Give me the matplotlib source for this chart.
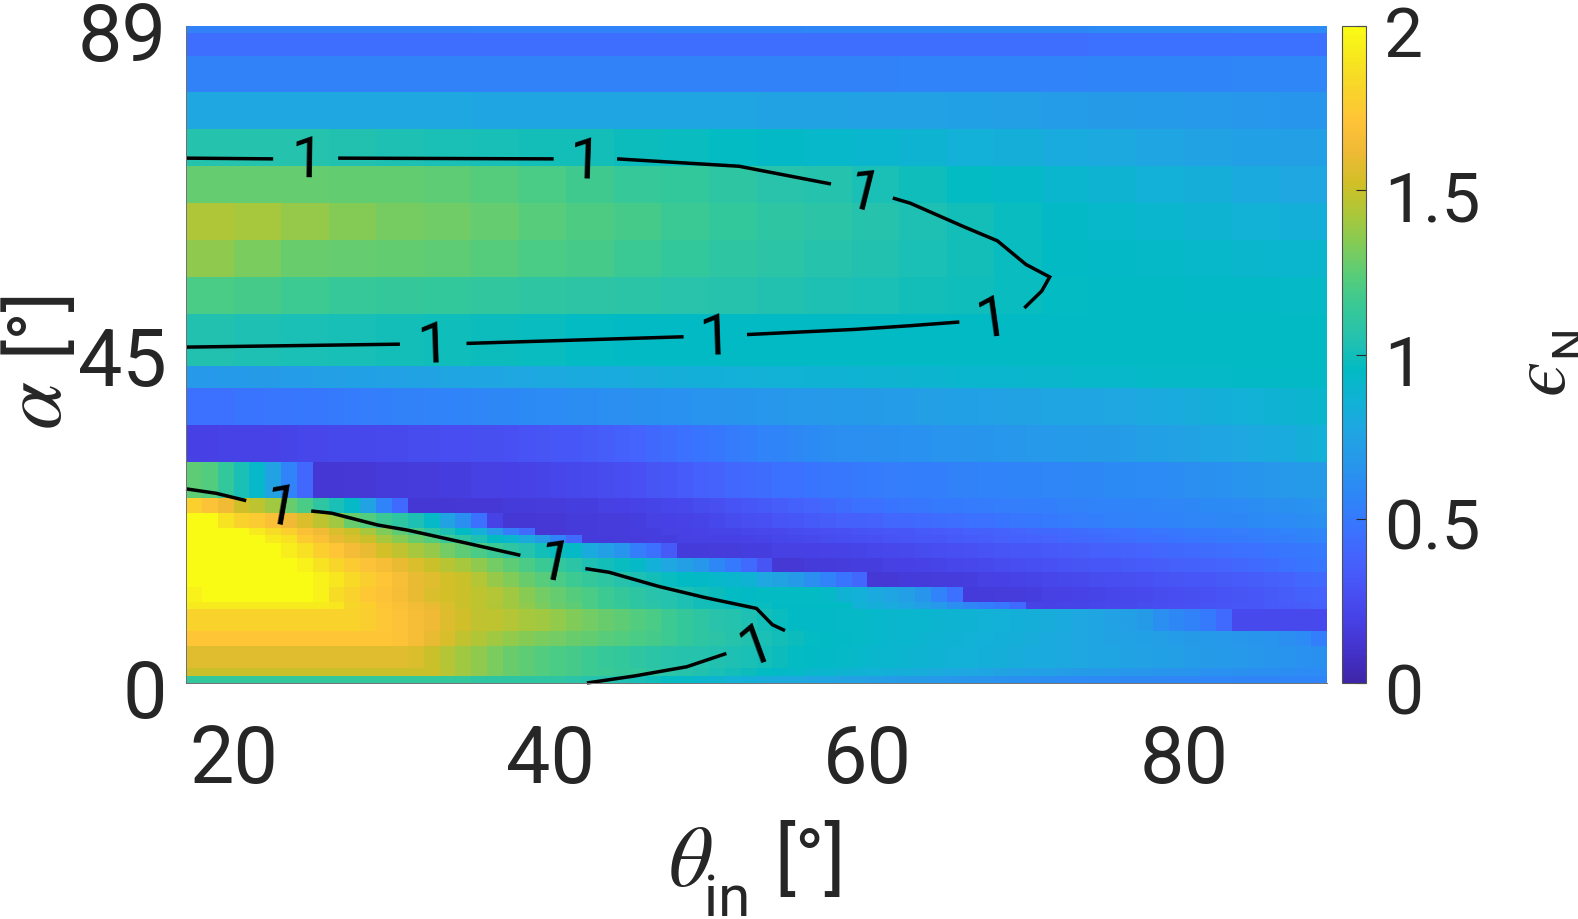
import numpy as np
import matplotlib
matplotlib.use("Agg")
from matplotlib import pyplot as plt
from matplotlib.colors import LinearSegmentedColormap
from matplotlib.transforms import ScaledTranslation

plt.rcParams['font.family'] = ['Roboto', 'DejaVu Sans']
plt.rcParams['mathtext.fontset'] = 'custom'
plt.rcParams['mathtext.rm'] = 'Roboto'
plt.rcParams['mathtext.it'] = 'STIXGeneral:italic'

W, H = 1578, 920
TXT = '#262626'

parula_idx = [0, 3, 6, 9, 12, 15, 18, 21, 24, 27, 30, 33, 36, 39, 42, 45, 48, 51, 54, 58, 63]
parula = [
    (0.2422, 0.1504, 0.6603), (0.2647, 0.1978, 0.7952), (0.2783, 0.2559, 0.8991),
    (0.2810, 0.3228, 0.9579), (0.2699, 0.3892, 0.9906), (0.2206, 0.4603, 0.9973),
    (0.1786, 0.5289, 0.9682), (0.1540, 0.5902, 0.9218), (0.1248, 0.6459, 0.8883),
    (0.0689, 0.6948, 0.8394), (0.0067, 0.7312, 0.7660), (0.1408, 0.7584, 0.6842),
    (0.2161, 0.7843, 0.5923), (0.3406, 0.8008, 0.4789), (0.5044, 0.7993, 0.3480),
    (0.6720, 0.7793, 0.2227), (0.8203, 0.7498, 0.1535), (0.9393, 0.7288, 0.2100),
    (0.9970, 0.7659, 0.2199), (0.9676, 0.8553, 0.1474), (0.9769, 0.9839, 0.0805),
]
cmap = LinearSegmentedColormap.from_list('parula', [(i/63, c) for i, c in zip(parula_idx, parula)], N=256)

theta_edges = list(range(17, 90))
alpha_edges = [0, 1, 2, 5, 7, 10, 11, 13, 15, 17, 19, 20, 21, 23, 25, 30,
               35, 40, 43, 50, 55, 60, 65, 70, 75, 80, 85, 88, 89]

# rows bottom to top, one value per degree of theta
row_00 = [1.12]*18 + [1.1]*6 + [1.08, 1.06, 1.05, 1.03, 1.01, .99, .96, .93, .91, .89, .86, .84, .82, .8, .79, .77] + [.76, .75, .74, .72, .71, .7, .69, .68, .67, .66, .65, .64, .63, .62, .61, .6, .6, .59, .59, .58, .58, .58, .57, .57, .57, .57, .56, .56, .56, .56, .56, .56]
row_01 = [1.5]*16 + [1.46, 1.4, 1.36, 1.32, 1.28, 1.25, 1.22, 1.2] + [1.18, 1.16, 1.15, 1.13, 1.12, 1.1, 1.08, 1.06, 1.04, 1.02, 1.0, .98, .96, .94, .93, .91] + [.9, .88, .87, .86, .84, .83, .82, .8, .79, .78, .76, .75, .74, .73, .72, .71, .7, .69, .68, .67, .67, .66, .65, .65, .64, .64, .63, .62, .62, .61, .6, .6]
row_02 = [1.57]*14 + [1.55, 1.5, 1.45, 1.4, 1.36, 1.32, 1.28, 1.25, 1.22, 1.2, 1.18, 1.16, 1.14, 1.12, 1.1, 1.08, 1.07, 1.06, 1.05, 1.04, 1.03, 1.02, 1.0, .98, .96, .95] + [.94, .93, .92, .91, .9, .89, .88, .87, .86, .85, .84, .83, .82, .81, .8, .79, .78, .77, .76, .75, .74, .73, .72, .71, .7, .69, .68, .67, .66, .65, .64, .63]
row_03 = [1.72]*13 + [1.7, 1.66, 1.6, 1.54, 1.48, 1.44, 1.4, 1.37, 1.34, 1.32, 1.3, 1.28, 1.26, 1.24, 1.22, 1.2, 1.18, 1.16, 1.13, 1.1, 1.08, 1.06, 1.04, 1.02, 1.0, .98, .96] + [.95, .94, .93, .92, .91, .9, .89, .88, .87, .86, .85, .84, .83, .82, .8, .79, .78, .76, .75, .74, .73, .72, .71, .7, .69, .68, .67, .66, .65, .62, .6, .53]
row_04 = [1.79]*11 + [1.77, 1.73, 1.7, 1.66, 1.62, 1.56, 1.52, 1.48, 1.47, 1.45, 1.42, 1.4, 1.37, 1.33, 1.3, 1.28, 1.25, 1.22, 1.2, 1.16, 1.13, 1.1, 1.07, 1.05, 1.03, 1.0, .97, .95] + [.94, .94, .93, .93, .92, .91, .9, .9, .89, .88, .87, .86, .85, .84, .83, .82, .8, .78, .76, .74, .72, .7] + [.62, .58, .54, .5, .42] + [.24]*6
row_05 = [1.92]*9 + [1.9, 1.82, 1.78, 1.72, 1.68, 1.64, 1.6, 1.55, 1.5, 1.47, 1.44, 1.4, 1.36, 1.32, 1.28, 1.25, 1.2, 1.16, 1.14, 1.1, 1.08, 1.05, 1.03, 1.0, 1.0, .98, .97, .97] + [.95]*5 + [.86, .83, .8, .77, .72, .68, .62, .57, .53, .49, .42] + [.2, .2, .21, .21, .22, .23, .24, .25, .26, .27, .28, .29, .3, .31, .32, .33, .34, .35, .36]
row_06 = [1.95] + [2.0]*7 + [1.95, 1.85, 1.8, 1.74, 1.7, 1.66, 1.6, 1.55, 1.53, 1.5, 1.47, 1.45, 1.4, 1.35, 1.3, 1.27, 1.23, 1.2, 1.16, 1.13, 1.1, 1.07, 1.05, 1.03, 1.0, .98, .96, .95] + [.96]*4 + [.93, .87, .85, .8, .77, .72, .66, .55, .45] + [.15, .15, .16, .16, .17, .18, .19, .2, .21, .22, .23, .24, .25, .26, .27, .28, .29, .3, .31, .33, .35, .37, .38]
row_07 = [2.0]*8 + [1.95, 1.9, 1.83, 1.77, 1.72, 1.67, 1.6, 1.57, 1.53, 1.5, 1.45, 1.38, 1.33, 1.28, 1.24, 1.2, 1.16, 1.13, 1.1, 1.06, 1.03, 1.0, .97, .95, .94, .92, .9, .87] + [.78, .75, .7, .62, .55, .47, .4] + [.14, .14, .15, .15, .16, .16, .17, .18, .19, .2, .21, .22, .23, .24, .25, .26, .27, .28, .29, .3, .31, .32, .33, .34, .35, .36, .38, .4, .42]
row_08 = [2.0]*7 + [1.95, 1.88, 1.82, 1.75, 1.7, 1.66, 1.6, 1.55, 1.5, 1.46, 1.42, 1.36, 1.3, 1.25, 1.2, 1.15, 1.12, 1.08, 1.03, 1.0, .97, .93, .85, .78, .72, .67, .58, .5, .42] + [.3] + [.14, .14, .15, .15, .16, .17, .17, .18, .19, .2, .21, .22, .23, .24, .25, .26, .27, .28, .29, .3, .31, .32, .33, .34, .35, .36, .37, .38, .39, .4, .42, .43, .45, .47, .48]
row_09 = [2.0]*6 + [1.93, 1.87, 1.78, 1.72, 1.65, 1.6, 1.53, 1.48, 1.42, 1.38, 1.3, 1.25, 1.2, 1.15, 1.1, 1.05, 1.0, .97, .93, .8, .72, .65, .52, .45, .33] + [.15, .15, .16, .16, .17, .17, .18, .18, .19, .2, .2, .21, .22, .23, .24, .25, .26, .27, .28, .29, .3, .31, .32, .33, .34, .35, .36, .37, .38, .39, .4, .41, .42, .43, .44, .45, .46, .47, .48, .49, .5]
row_10 = [2.0]*5 + [1.92, 1.88, 1.75, 1.68, 1.6, 1.55, 1.5, 1.42, 1.35, 1.28, 1.22, 1.15, 1.1, 1.03, .95, .9, .8, .7, .55, .42] + [.15, .15, .16, .16, .17, .17, .18, .18, .19, .19, .2, .21, .22, .23, .24, .25, .26, .27, .28, .29, .3, .31, .32, .33, .34, .35, .36, .37, .38, .39, .4, .41, .42, .43, .44, .45, .46, .47, .48, .49, .5, .5, .51, .52, .53, .54, .55]
row_11 = [2.0]*4 + [1.92, 1.85, 1.78, 1.68, 1.63, 1.55, 1.5, 1.42, 1.33, 1.25, 1.18, 1.1, 1.03, .95, .85, .68, .52, .42] + [.14, .14, .15, .15, .16, .16, .17, .17, .18, .19, .2, .21, .21, .22, .23, .24, .25, .26, .27, .28, .29, .3, .31, .32, .33, .34, .35, .36, .37, .38, .39, .4, .41, .42, .43, .44, .45, .46, .47, .48, .49, .5, .5, .51, .52, .53, .54, .55, .56, .57]
row_12 = [2.0]*2 + [1.88, 1.8, 1.75, 1.68, 1.62, 1.55, 1.47, 1.4, 1.28, 1.22, 1.15, 1.1, 1.03, .93, .75, .62, .45] + [.2] + [.13, .13, .14, .14, .15, .15, .16, .16, .17, .18, .19, .2, .21, .23, .25, .27, .28, .3, .31, .33, .35, .36, .37, .38, .4, .41, .42, .43, .44, .45, .46, .47, .48, .49, .5, .51, .52, .53, .54, .54, .55, .55, .56, .57, .57, .58, .58, .59, .6, .6, .61, .62]
row_13 = [1.78, 1.7, 1.63, 1.52, 1.47, 1.4, 1.28, 1.2, 1.1, 1.02, .93, .75, .55, .42] + [.13, .13, .13, .14, .14, .14, .15, .15, .16, .16, .17, .17, .18, .19, .2, .21, .22, .23, .25, .27, .29, .31, .33, .35, .37, .39, .41, .43, .45, .46, .47, .48, .49, .5, .5, .51, .51, .52, .52, .53, .53, .54, .54, .55, .55, .56, .56, .57, .57, .58, .59, .59, .6, .61, .62, .63, .64, .65]
row_14 = [1.25, 1.22, 1.12, 1.02, .92, .75, .55, .4] + [.13, .13, .14, .14, .15, .15, .16, .16, .17, .17, .18, .18, .19, .2, .21, .22, .23, .24, .25, .26, .28, .3, .32, .34, .36, .38, .4, .42, .43, .45, .46, .47, .48, .49, .5, .51, .52, .52, .53, .53, .54, .54, .55, .55, .56, .56, .57, .57, .58, .58, .59, .59, .6, .6, .61, .62, .63, .64, .65, .66, .67, .68, .69, .7]
row_15 = [.19, .19, .2, .2, .2, .2, .21, .22, .22, .23, .23, .23, .24, .24, .25, .25, .26, .26, .27, .27,
          .28, .29, .3, .31, .32, .33, .35, .37, .39, .41, .43, .45, .47, .49, .51, .53, .55, .56, .58, .59,
          .61, .62, .62, .63, .63, .64, .64, .65, .65, .66, .66, .67, .67, .68, .68, .69, .69, .7, .7, .71,
          .72, .73, .74, .75, .76, .77, .78, .79, .8, .81, .83, .85]
row_16 = [.46, .46, .46, .47, .47, .48, .48, .49, .49, .5, .51, .52, .53, .54, .54, .55, .55, .56, .57, .58,
          .58, .59, .6, .6, .61, .61, .62, .62, .63, .63, .64, .64, .65, .65, .66, .66, .67, .67, .68, .68,
          .69, .69, .7, .7, .71, .71, .72, .72, .73, .73, .74, .74, .75, .75, .76, .76, .77, .77, .78, .78,
          .79, .8, .81, .82, .83, .84, .85, .86, .87, .88, .89, .9]
row_17 = [.68, .68, .69, .69, .7, .7, .71, .71, .72, .72, .73, .73, .74, .74, .75, .75, .76, .76, .77, .77,
          .78, .78, .79, .79, .8, .8, .81, .81, .82, .82, .83, .83, .84, .84, .85, .85, .86, .86, .86, .87,
          .87, .87, .88, .88, .88, .89, .89, .89, .9, .9, .9, .9, .91, .91, .91, .91, .92, .92, .92, .92,
          .93, .93, .93, .93, .93, .93, .94, .94, .94, .94, .94, .94]

# upper rows vary slowly, one value per 3 degrees of theta
row_18 = [1.04, 1.03, 1.02, 1.01, 1.0, .99, .98, .97, .96, .95, .95, .95, .95, .95, .95, .95, .95, .95, .95, .95, .95, .95, .95, .95]
row_19 = [1.2, 1.18, 1.16, 1.14, 1.13, 1.12, 1.11, 1.1, 1.09, 1.08, 1.07, 1.06, 1.04, 1.03, 1.02, 1.0, .99, .97, .96, .95, .95, .94, .94, .93]
row_20 = [1.36, 1.32, 1.28, 1.27, 1.26, 1.25, 1.23, 1.2, 1.18, 1.15, 1.12, 1.1, 1.08, 1.06, 1.04, 1.02, 1.0, .97, .95, .94, .93, .92, .91, .9]
row_21 = [1.43, 1.42, 1.38, 1.34, 1.31, 1.29, 1.27, 1.24, 1.21, 1.18, 1.15, 1.12, 1.1, 1.08, 1.06, 1.03, 1.0, .97, .94, .92, .9, .88, .86, .84]
row_22 = [1.27, 1.27, 1.27, 1.26, 1.26, 1.25, 1.23, 1.2, 1.17, 1.14, 1.12, 1.1, 1.07, 1.05, 1.02, .99, .96, .93, .9, .88, .85, .83, .8, .78]
row_23 = [1.05, 1.05, 1.05, 1.04, 1.03, 1.02, 1.01, 1.0, 1.0, .98, .97, .96, .94, .92, .9, .88, .85, .83, .81, .79, .77, .75, .73, .72]
row_24 = [.78, .78, .78, .78, .78, .78, .77, .77, .77, .76, .76, .76, .75, .75, .74, .74, .73, .72, .71, .7, .69, .68, .67, .66]
row_25 = [.54, .54, .54, .54, .54, .54, .54, .54, .54, .54, .54, .54, .54, .54, .54, .55, .55, .55, .55, .56, .56, .56, .57, .57]
row_26 = [.44, .44, .44, .44, .44, .44, .44, .44, .44, .44, .44, .44, .44, .44, .44, .44, .44, .44, .44, .45, .45, .45, .46, .46]
row_27 = [.54, .54, .54, .54, .54, .54, .55, .55, .55, .55, .56, .56, .56, .57, .57, .57, .58, .58, .58, .59, .59, .59, .6, .6]

# contour level 1, pieces between the inline labels (theta, alpha)
contour_pieces = [
    ([17, 22.5], [71.1, 71.0]),
    ([26.6, 40.2], [71.1, 71.0]),
    ([44.2, 51.9, 57.7], [71.0, 70.0, 67.6]),
    ([61.6, 62.7, 66.2, 68.2, 69.1, 70.0, 71.5, 71.0, 69.9], [65.7, 65.0, 61.7, 59.9, 58.3, 56.7, 55.0, 53.1, 50.8]),
    ([65.8, 62.7, 59.2, 52.4], [48.9, 48.4, 47.9, 47.2]),
    ([48.4, 34.7], [46.9, 46.0]),
    ([30.5, 17], [45.9, 45.5]),
    ([17, 18.9, 20.8], [26.3, 25.7, 24.7]),
    ([24.9, 26.2, 29.1, 31, 34.8, 38.1], [23.3, 23.0, 21.4, 20.7, 18.9, 17.3]),
    ([42.2, 43.7, 46.8, 49.7, 53, 54, 54.8], [15.5, 15.0, 13.1, 11.6, 10.1, 7.9, 7.1]),
    ([42.3, 45.3, 48.6, 51.1], [0, 0.95, 2.2, 4.0]),
]
label_theta = [24.6, 42.2, 59.7, 67.9, 50.4, 32.6, 22.9, 40.2, 53]
label_alpha = [70.8, 70.6, 66.2, 49.3, 46.7, 45.6, 23.6, 16.1, 5]
label_angle = [-1, -2, -14, 8, 2, 2, -10, -12, 20]

fine = [row_00, row_01, row_02, row_03, row_04, row_05, row_06, row_07, row_08,
        row_09, row_10, row_11, row_12, row_13, row_14, row_15, row_16, row_17]
coarse = [row_18, row_19, row_20, row_21, row_22, row_23, row_24, row_25, row_26, row_27]
eps = np.vstack([np.array(fine), np.repeat(np.array(coarse), 3, axis=1)])

fig = plt.figure(figsize=(W/100, H/100), dpi=100)
ax = fig.add_axes([186/W, 1-684/H, (1327-186)/W, (684-27)/H])
mesh = ax.pcolormesh(theta_edges, alpha_edges, eps, cmap=cmap, vmin=0, vmax=2,
                     shading='flat', linewidth=0)
for th, al in contour_pieces:
    ax.plot(th, al, color='k', lw=2.5, solid_joinstyle='miter', solid_capstyle='butt', clip_on=False)
for th, al, rot in zip(label_theta, label_alpha, label_angle):
    ax.text(th, al, '1', fontsize=42, color='k', rotation=rot, rotation_mode='anchor',
            ha='center', va='center')

ax.set_xlim(17, 89)
ax.set_ylim(0, 89)
ax.set_axisbelow(True)
ax.set_xticks([20, 40, 60, 80])
ax.set_yticks([0, 45, 89])
ax.tick_params(direction='in', length=7, width=0.6, color='#808080', labelcolor=TXT,
               labelsize=57)
ax.tick_params(axis='x', pad=28)
ax.tick_params(axis='y', pad=14)
for s in ['top', 'right']:
    ax.spines[s].set_visible(False)
for s in ['left', 'bottom']:
    ax.spines[s].set_color('#707070')
    ax.spines[s].set_linewidth(0.7)

cax = fig.add_axes([1342/W, 1-684/H, 24/W, (684-27)/H])
cb = fig.colorbar(mesh, cax=cax, ticks=[0, 0.5, 1, 1.5, 2])
cb.ax.set_yticklabels(['0', '0.5', '1', '1.5', '2'])
cb.ax.tick_params(direction='in', length=7, width=0.8, color=TXT, labelcolor=TXT,
                  labelsize=50, pad=13)
cb.outline.set_linewidth(0.8)
cb.outline.set_edgecolor('#505050')

# tick labels sit a little below their ticks in the reference
nudge = ScaledTranslation(0, -3/72, fig.dpi_scale_trans)
for lab in ax.get_yticklabels() + cb.ax.get_yticklabels():
    lab.set_transform(lab.get_transform() + nudge)

fig.text(690/W, 1-863/H, r'$\theta$', fontsize=62, color=TXT, ha='center', va='center')
fig.text(727/W, 1-916/H, 'in', fontsize=42, color=TXT, ha='center', va='baseline')
fig.text(810/W, 1-863/H, '[°]', fontsize=57, color=TXT, ha='center', va='center')
fig.text(38/W, 1-405/H, r'$\alpha$', fontsize=62, color=TXT, rotation=90, ha='center', va='center')
fig.text(37/W, 1-320/H, '[°]', fontsize=55, color=TXT, rotation=90, ha='center', va='center')
fig.text(1544/W, 1-376/H, '\u03f5', fontsize=57, color=TXT, rotation=90, ha='center', va='center',
         family=['STIXGeneral', 'DejaVu Sans'], style='italic')
fig.text(1569/W, 1-341/H, 'N', fontsize=33, color=TXT, rotation=90, ha='center', va='center')

fig.savefig('out.png', dpi=100)
